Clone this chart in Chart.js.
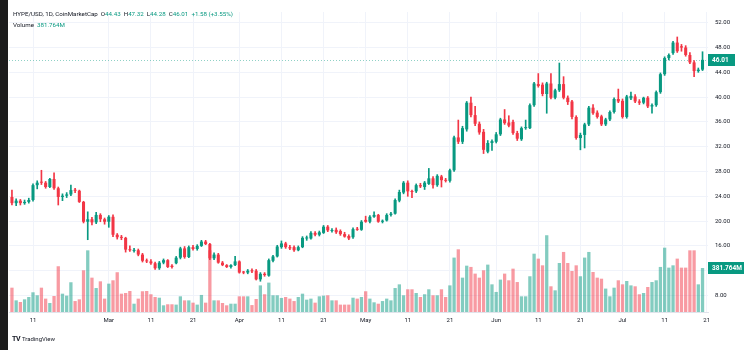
<!DOCTYPE html>
<html>
<head>
<meta charset="utf-8">
<title>HYPE/USD 1D</title>
<script src="https://cdn.jsdelivr.net/npm/chart.js@4.4.1/dist/chart.umd.min.js"></script>
<style>
  html, body { margin: 0; padding: 0; background: #fff; }
  #wrap { position: relative; width: 750px; height: 350px; overflow: hidden; font-family: Roboto, "Liberation Sans", sans-serif; }
  #edge { position: absolute; left: 0; top: 0; width: 8px; height: 350px; background: #1c1c1c; }
  #legend { position: absolute; left: 13px; top: 9px; font-size: 6.2px; color: #131722; line-height: 11px; white-space: nowrap; }
  #legend .v { color: #089981; }
  #footer { position: absolute; left: 12px; top: 335px; font-size: 6px; color: #131722; white-space: nowrap; }
  #footer b { font-size: 7px; letter-spacing: -0.5px; margin-right: 2px; }
</style>
</head>
<body>
<div id="wrap">
  <canvas id="hypeChart" width="750" height="350"></canvas>
  <div id="edge"></div>
  <div id="legend">
    <div>HYPE/USD, 1D, CoinMarketCap&nbsp; O<span class="v">44.43</span>&nbsp; H<span class="v">47.32</span>&nbsp; L<span class="v">44.28</span>&nbsp; C<span class="v">46.01</span>&nbsp; <span class="v">+1.58 (+3.55%)</span></div>
    <div>Volume&nbsp; <span class="v">381.764M</span></div>
  </div>
  <div id="footer"><b>TV</b>TradingView</div>
</div>
<script>
// daily candles, Feb 6 -> Jul 20 (index 0 = Feb 6)
const open = [
  23.9, 22.9, 23.3, 22.9, 23.1, 23.4, 25.8, 26.3, 26.2, 25.5,
  26.8, 25.3, 23.9, 24.1, 24.3, 25.0, 24.9, 23.1, 19.9, 20.3,
  19.8, 21.0, 20.3, 19.9, 20.7, 17.8, 17.4, 17.3, 15.4, 15.2,
  15.3, 14.6, 13.6, 13.5, 13.2, 12.4, 13.3, 13.7, 12.8, 13.2,
  14.1, 15.6, 14.2, 15.8, 15.5, 16.0, 16.7, 16.3, 14.0, 14.6,
  13.3, 12.9, 12.6, 12.9, 13.5, 11.8, 11.7, 12.0, 12.0, 10.6,
  11.5, 11.2, 13.6, 14.3, 15.8, 16.4, 15.8, 15.8, 15.3, 15.8,
  17.2, 17.2, 18.1, 17.8, 18.1, 19.1, 18.4, 18.6, 18.4, 17.9,
  17.6, 17.4, 18.7, 18.6, 20.2, 19.9, 20.7, 21.0, 19.9, 20.1,
  21.0, 21.2, 23.3, 24.6, 26.2, 24.8, 24.8, 25.8, 25.5, 26.0,
  26.9, 25.8, 27.2, 26.6, 26.5, 28.2, 33.5, 32.8, 34.8, 39.1,
  37.1, 35.7, 34.4, 31.2, 32.6, 32.8, 34.0, 36.4, 35.9, 36.0,
  34.2, 33.2, 35.0, 35.0, 38.7, 42.1, 42.0, 40.5, 42.2, 39.9,
  41.1, 42.1, 39.9, 39.3, 36.8, 33.4, 33.9, 35.6, 38.3, 37.5,
  36.9, 35.6, 36.4, 37.6, 39.7, 39.4, 36.8, 39.8, 40.1, 39.3,
  39.1, 39.9, 38.5, 38.7, 40.8, 43.7, 46.3, 47.1, 48.8, 48.2,
  48.0, 46.8, 45.6, 44.2, 44.43
];
const high = [
  25.0, 23.6, 23.5, 23.4, 23.7, 26.0, 26.5, 28.2, 26.4, 26.9,
  27.8, 25.5, 24.4, 24.6, 25.8, 25.3, 25.0, 23.2, 21.5, 20.6,
  21.4, 21.2, 20.5, 20.9, 21.0, 18.0, 17.7, 17.4, 16.0, 15.6,
  15.5, 14.8, 13.9, 13.8, 13.4, 13.5, 13.9, 13.8, 13.0, 14.3,
  15.8, 15.9, 16.0, 16.1, 16.2, 16.9, 16.9, 16.4, 14.9, 14.8,
  13.5, 13.0, 13.0, 14.3, 13.6, 11.9, 12.2, 12.3, 12.2, 11.7,
  11.7, 13.9, 14.5, 16.1, 16.8, 16.6, 16.1, 16.0, 16.0, 17.5,
  17.6, 18.3, 18.3, 18.4, 19.3, 19.3, 18.8, 18.9, 18.6, 18.2,
  17.8, 18.9, 19.0, 20.1, 20.8, 20.9, 21.5, 21.1, 20.2, 21.2,
  21.4, 23.6, 25.0, 26.4, 26.5, 25.0, 26.0, 26.1, 26.4, 28.5,
  27.2, 27.5, 27.4, 26.9, 28.4, 33.7, 36.3, 35.3, 39.3, 40.0,
  38.5, 36.0, 34.8, 33.0, 33.1, 34.3, 36.6, 38.0, 37.0, 36.3,
  34.5, 35.2, 36.3, 38.9, 42.4, 43.8, 42.3, 42.4, 43.8, 41.3,
  45.5, 43.3, 40.2, 39.5, 37.0, 34.2, 35.8, 38.5, 38.8, 37.8,
  37.1, 36.6, 37.8, 39.9, 41.3, 39.7, 40.3, 40.8, 40.4, 39.6,
  40.0, 40.1, 38.9, 41.0, 43.9, 46.5, 47.0, 49.0, 49.7, 48.5,
  48.3, 47.2, 45.9, 44.7, 47.32
];
const low = [
  22.6, 22.5, 22.6, 22.7, 22.9, 23.2, 25.2, 25.9, 25.3, 25.4,
  25.1, 22.6, 23.3, 23.8, 24.1, 24.6, 23.0, 19.7, 17.0, 19.4,
  19.6, 19.9, 19.5, 19.0, 17.5, 17.1, 17.0, 15.0, 15.1, 15.0,
  14.4, 13.4, 13.3, 13.0, 12.2, 12.2, 13.1, 12.5, 12.4, 13.1,
  13.9, 14.0, 14.1, 15.3, 15.3, 15.9, 16.2, 13.8, 13.8, 13.2,
  12.8, 12.5, 12.4, 12.8, 11.6, 11.5, 11.5, 11.7, 10.5, 10.3,
  11.1, 11.1, 13.4, 14.2, 15.6, 15.6, 15.4, 15.1, 15.2, 15.7,
  16.9, 17.1, 17.6, 17.6, 18.0, 18.3, 18.2, 18.0, 17.7, 17.4,
  17.0, 17.2, 18.5, 18.5, 19.8, 19.7, 20.6, 19.8, 19.7, 20.0,
  20.8, 21.1, 23.1, 24.4, 24.0, 23.8, 24.6, 25.4, 25.1, 25.9,
  25.3, 25.6, 25.5, 26.3, 26.3, 28.0, 32.5, 32.5, 34.5, 36.8,
  35.4, 34.0, 30.9, 31.0, 31.4, 32.6, 33.8, 35.6, 35.2, 34.0,
  33.0, 33.0, 34.8, 34.9, 38.5, 41.6, 40.2, 37.4, 39.7, 39.7,
  40.9, 39.7, 38.8, 36.5, 33.2, 31.5, 31.8, 35.4, 37.2, 36.6,
  35.4, 35.4, 36.2, 37.4, 39.1, 36.6, 36.6, 39.6, 39.1, 38.8,
  38.9, 38.3, 37.4, 38.5, 40.6, 43.5, 46.0, 46.9, 47.2, 47.4,
  46.6, 45.4, 43.3, 44.0, 44.28
];
const close = [
  22.9, 23.3, 22.9, 23.1, 23.4, 25.8, 26.2, 26.2, 25.5, 26.8,
  25.3, 23.9, 24.1, 24.3, 25.0, 24.9, 23.1, 19.9, 20.3, 19.8,
  21.0, 20.3, 19.9, 20.7, 17.8, 17.4, 17.3, 15.4, 15.3, 15.35,
  14.6, 13.6, 13.5, 13.2, 12.4, 13.3, 13.7, 12.6, 12.6, 14.1,
  15.6, 14.2, 15.8, 15.5, 16.0, 16.7, 16.3, 14.0, 14.6, 13.3,
  12.9, 12.6, 12.9, 13.5, 11.7, 11.7, 12.0, 11.9, 10.6, 11.5,
  11.3, 13.7, 14.3, 15.9, 16.4, 15.8, 15.6, 15.3, 15.8, 17.3,
  17.3, 18.1, 17.8, 18.2, 19.1, 18.5, 18.5, 18.2, 17.9, 17.5,
  17.2, 18.7, 18.6, 19.9, 19.9, 20.7, 21.0, 19.9, 20.0, 21.0,
  21.2, 23.4, 24.7, 26.2, 24.8, 24.7, 25.8, 25.6, 26.2, 26.9,
  25.8, 27.3, 26.6, 26.5, 28.2, 33.5, 32.8, 35.0, 39.1, 37.1,
  35.7, 34.3, 31.5, 32.6, 32.9, 34.0, 36.4, 35.8, 35.4, 34.2,
  33.3, 35.0, 35.1, 38.7, 42.2, 41.8, 40.5, 42.2, 39.9, 41.1,
  42.1, 39.9, 39.2, 36.8, 33.4, 33.9, 35.6, 38.3, 37.4, 36.8,
  35.6, 36.4, 37.6, 39.7, 39.3, 36.8, 40.1, 40.2, 39.3, 39.1,
  39.9, 38.5, 38.7, 40.8, 43.7, 46.3, 46.8, 48.8, 47.4, 48.0,
  46.8, 45.6, 44.2, 44.43, 46.01
];
// volume in millions
const volume = [
  211, 101, 87, 110, 130, 171, 145, 211, 116, 78,
  139, 397, 159, 142, 258, 95, 110, 362, 535, 298,
  208, 266, 116, 246, 275, 345, 159, 165, 182, 72,
  116, 180, 182, 154, 130, 124, 58, 67, 67, 64,
  136, 101, 101, 81, 64, 148, 81, 535, 101, 101,
  78, 58, 72, 72, 136, 136, 136, 60, 113, 231,
  154, 255, 145, 145, 122, 130, 116, 95, 130, 159,
  107, 116, 81, 136, 142, 145, 101, 101, 64, 64,
  64, 124, 116, 130, 180, 116, 84, 72, 95, 116,
  101, 208, 240, 145, 197, 197, 165, 130, 154, 197,
  145, 145, 197, 130, 231, 472, 544, 298, 402, 391,
  333, 298, 362, 411, 240, 174, 281, 333, 275, 376,
  260, 136, 136, 310, 506, 463, 405, 666, 223, 188,
  425, 521, 425, 356, 405, 310, 472, 521, 347, 298,
  289, 203, 136, 211, 275, 240, 269, 231, 223, 154,
  165, 217, 260, 275, 391, 558, 385, 405, 463, 385,
  385, 535, 535, 240, 381.764
];

// time axis labels (candle index -> text)
const tickPos = [5, 23, 33, 43, 54, 64, 74, 84, 94, 104, 115, 125, 135, 145, 155, 165];
const tickLabels = ["11", "Mar", "11", "21", "Apr", "11", "21", "May", "11", "21", "Jun", "11", "21", "Jul", "11", "21"];
const priceTicks = [8, 12, 16, 20, 24, 28, 32, 36, 40, 44, 48, 52];

const UP = "#089981";
const DOWN = "#f23645";
const UP_VOL = "rgba(8, 153, 129, 0.5)";
const DOWN_VOL = "rgba(242, 54, 69, 0.5)";

const isUp = close.map((c, i) => c >= open[i]);

// last price line + axis labels (TradingView style)
const lastMarks = {
  id: "lastMarks",
  beforeDatasetsDraw(chart) {
    const { ctx, chartArea, scales } = chart;
    const y = scales.y.getPixelForValue(close[close.length - 1]);
    ctx.save();
    ctx.strokeStyle = "rgba(8, 153, 129, 0.45)";
    ctx.lineWidth = 1;
    ctx.setLineDash([1, 2]);
    ctx.beginPath();
    ctx.moveTo(chartArea.left, Math.round(y) + 0.5);
    ctx.lineTo(chartArea.right, Math.round(y) + 0.5);
    ctx.stroke();
    ctx.restore();
  },
  afterDraw(chart) {
    const { ctx, chartArea, scales } = chart;
    const label = (y, text, w) => {
      ctx.fillStyle = UP;
      ctx.fillRect(chartArea.right, Math.round(y) - 6, w, 12);
      ctx.fillStyle = "#fff";
      ctx.font = "bold 6.5px Roboto";
      ctx.textBaseline = "middle";
      ctx.fillText(text, chartArea.right + 4, Math.round(y) + 0.5);
    };
    label(scales.y.getPixelForValue(close[close.length - 1]), close[close.length - 1].toFixed(2), 27);
    label(scales.yv.getPixelForValue(volume[volume.length - 1]), volume[volume.length - 1].toFixed(3) + "M", 36);
  }
};

const ctx = document.getElementById("hypeChart");

new Chart(ctx, {
  type: "bar",
  data: {
    datasets: [
      {
        label: "Volume",
        yAxisID: "yv",
        data: volume.map((v, i) => ({ x: i, y: v })),
        backgroundColor: volume.map((v, i) => (isUp[i] ? UP_VOL : DOWN_VOL)),
        barPercentage: 0.78,
        categoryPercentage: 1,
        grouped: false,
        order: 3
      },
      {
        label: "Wick",
        yAxisID: "y",
        data: low.map((l, i) => ({ x: i, y: [l, high[i]] })),
        backgroundColor: isUp.map(u => (u ? UP : DOWN)),
        barThickness: 1,
        grouped: false,
        order: 2
      },
      {
        label: "Body",
        yAxisID: "y",
        data: open.map((o, i) => ({ x: i, y: [o, close[i]] })),
        backgroundColor: isUp.map(u => (u ? UP : DOWN)),
        barPercentage: 0.72,
        categoryPercentage: 1,
        minBarLength: 1,
        grouped: false,
        order: 1
      }
    ]
  },
  options: {
    responsive: false,
    animation: false,
    devicePixelRatio: 1,
    layout: { padding: { left: 9, top: 12, right: 0, bottom: 24 } },
    plugins: { legend: { display: false }, tooltip: { enabled: false } },
    scales: {
      x: {
        type: "linear",
        offset: false,
        min: -0.7,
        max: 165.3,
        afterBuildTicks: axis => { axis.ticks = tickPos.map(v => ({ value: v })); },
        afterFit: axis => { axis.height = 14; },
        ticks: {
          autoSkip: false,
          maxRotation: 0,
          padding: 5,
          color: "#131722",
          font: { family: "Roboto", size: 6 },
          callback: v => tickLabels[tickPos.indexOf(v)]
        },
        grid: { color: "#f0f3fa", drawTicks: false, offset: false },
        border: { display: true, color: "#e0e3eb" }
      },
      y: {
        position: "right",
        min: 5.34,
        max: 53.73,
        afterBuildTicks: axis => { axis.ticks = priceTicks.map(v => ({ value: v })); },
        afterFit: axis => { axis.width = 42; },
        ticks: {
          padding: 7,
          color: "#131722",
          font: { family: "Roboto", size: 6 },
          callback: v => v.toFixed(2)
        },
        grid: { color: "#f0f3fa", drawTicks: false },
        border: { display: false }
      },
      yv: {
        display: false,
        min: 0,
        max: 2603
      }
    }
  },
  plugins: [lastMarks]
});
</script>
</body>
</html>
